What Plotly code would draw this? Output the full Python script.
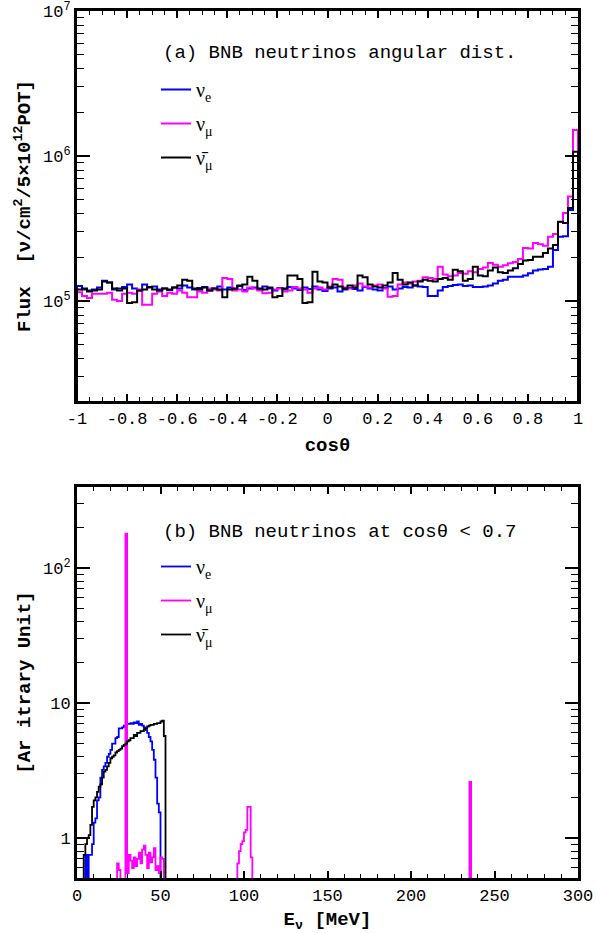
import plotly.graph_objects as go

# ---------------- Panel (a): angular distribution, 100 bins in cos(theta) ----------------
cos_start = -1.0
cos_width = 0.02
flux_unit = 1e5

nue_flux = [1.27, 1.20, 1.18, 1.20, 1.24, 1.38, 1.34, 1.20, 1.22, 1.25,
            1.30, 1.22, 1.18, 1.30, 1.24, 1.26, 1.20, 1.22, 1.19, 1.24,
            1.22, 1.28, 1.24, 1.20, 1.23, 1.25, 1.18, 1.22, 1.26, 1.20,
            1.24, 1.21, 1.27, 1.19, 1.22, 1.24, 1.20, 1.26, 1.22, 1.18,
            1.23, 1.20, 1.25, 1.22, 1.19, 1.24, 1.21, 1.26, 1.20, 1.17,
            1.22, 1.24, 1.16, 1.20, 1.23, 1.21, 1.18, 1.25, 1.22, 1.20,
            1.18, 1.23, 1.26, 1.20, 1.22, 1.25, 1.24, 1.28, 1.26, 1.25,
            1.08, 1.08, 1.18, 1.25, 1.27, 1.29, 1.30, 1.27, 1.28, 1.25,
            1.25, 1.26, 1.28, 1.32, 1.38, 1.40, 1.47, 1.47, 1.47, 1.50,
            1.55, 1.62, 1.65, 1.66, 1.72, 2.25, 2.77, 2.80, 4.24, 10.0]

numu_flux = [1.15, 1.08, 1.05, 1.12, 1.12, 1.12, 1.14, 1.02, 1.00, 1.12,
             1.14, 1.12, 1.20, 0.94, 0.94, 1.12, 1.16, 1.08, 1.14, 1.12,
             1.18, 1.14, 1.06, 1.06, 1.16, 1.14, 1.22, 1.20, 1.18, 1.44,
             1.42, 1.18, 1.20, 1.16, 1.24, 1.22, 1.18, 1.13, 1.14, 1.20,
             1.22, 1.16, 1.18, 1.25, 1.22, 1.20, 1.14, 1.22, 1.24, 1.20,
             1.26, 1.42, 1.40, 1.24, 1.22, 1.28, 1.32, 1.26, 1.24, 1.28,
             1.30, 1.22, 1.07, 1.08, 1.30, 1.34, 1.32, 1.36, 1.38, 1.46,
             1.44, 1.42, 1.72, 1.52, 1.48, 1.50, 1.56, 1.54, 1.60, 1.58,
             1.66, 1.70, 1.83, 1.78, 1.72, 1.76, 1.82, 1.86, 1.95, 2.32,
             2.30, 2.51, 2.46, 2.40, 2.77, 2.90, 3.50, 4.04, 5.25, 15.1]

numubar_flux = [1.20, 1.22, 1.16, 1.18, 1.20, 1.36, 1.34, 1.22, 1.18, 1.22,
                0.97, 0.98, 1.18, 1.20, 1.25, 1.20, 1.18, 1.22, 1.20, 1.24,
                1.28, 1.40, 1.38, 1.22, 1.20, 1.24, 1.18, 1.22, 1.20, 1.06,
                1.20, 1.22, 1.28, 1.30, 1.47, 1.38, 1.22, 1.20, 1.24, 1.06,
                1.08, 1.22, 1.50, 1.50, 1.42, 0.97, 0.98, 1.59, 1.36, 1.34,
                1.24, 1.30, 1.26, 1.22, 1.28, 1.24, 1.50, 1.46, 1.30, 1.26,
                1.24, 1.28, 1.34, 1.56, 1.40, 1.30, 1.34, 1.28, 1.36, 1.40,
                1.38, 1.36, 1.42, 1.44, 1.40, 1.64, 1.60, 1.38, 1.42, 1.72,
                1.50, 1.48, 1.62, 1.70, 1.58, 1.56, 1.62, 1.68, 1.80, 1.90,
                1.92, 2.02, 2.02, 2.14, 2.30, 2.43, 3.52, 3.45, 4.37, 10.7]

# ---------------- Panel (b): energy spectra, 1 MeV bins ----------------
e_width = 1.0

nue_E_start = 5
nue_E = [0.75, 0.30, 0.75, 0.75, 0.90, 1.30, 1.40, 1.90, 2.00, 2.80,
         3.20, 3.40, 3.60, 4.00, 4.20, 4.50, 5.00, 5.00, 5.50, 5.60,
         6.50, 6.50, 6.60, 6.80, 6.80, 7.00, 7.00, 7.10, 7.00, 7.20,
         7.10, 7.30, 6.90, 7.00, 6.80, 6.60, 6.30, 6.00, 5.60, 5.20,
         4.50, 3.80, 2.80, 1.80, 1.55]

numubar_E_start = 4
numubar_E = [0.75, 0.90, 1.00, 1.05, 1.25, 1.70, 1.90, 2.00, 2.20, 2.40,
             2.50, 2.80, 3.10, 3.20, 3.40, 3.60, 3.90, 4.00, 4.10, 4.30,
             4.40, 4.50, 4.60, 4.80, 4.90, 5.00, 5.20, 5.30, 5.50, 5.50,
             5.80, 5.70, 6.00, 6.00, 6.20, 6.20, 6.40, 6.50, 6.70, 6.80,
             6.90, 6.90, 7.00, 7.00, 7.10, 7.10, 7.30, 7.40, 5.70]

numu_E1_start = 24
numu_E1 = [0.65, 0.58, 0.30, 0.30, 0.30, 180.0, 0.55, 0.75, 0.68, 0.60,
           0.72, 0.62, 0.70, 0.78, 0.65, 0.82, 0.88, 0.75, 0.60, 0.78,
           0.66, 0.72, 0.84, 0.58, 0.62, 0.55, 0.72, 0.70, 0.30]

numu_E2_start = 96
numu_E2 = [0.65, 0.80, 0.90, 0.95, 1.10, 1.15, 1.70, 1.70, 0.72]

numu_E3_start = 235
numu_E3 = [2.6]

legend_a_title = "(a) BNB neutrinos angular dist."
legend_b_title = "(b) BNB neutrinos at cosθ < 0.7"

BLUE = "#0000ff"
MAGENTA = "#ff00ff"
BLACK = "#000000"
MONO = "Liberation Mono"
SERIF = "Liberation Serif"
W, H = 596, 933


def step_xy(start, width, vals, floor, scale=1.0):
    xs = [start]
    ys = [floor]
    for i, v in enumerate(vals):
        xs.append(start + i * width)
        ys.append(v * scale)
    xs.append(start + len(vals) * width)
    ys.append(floor)
    return xs, ys


fig = go.Figure()

# panel (a)
for name, vals, col, grp in [("ν<sub>e</sub>", nue_flux, BLUE, "a1"),
                             ("ν<sub>μ</sub>", numu_flux, MAGENTA, "a2"),
                             ("ν̄<sub>μ</sub>", numubar_flux, BLACK, "a3")]:
    xs, ys = step_xy(cos_start, cos_width, vals, 1e3, flux_unit)
    fig.add_trace(go.Scatter(x=xs, y=ys, mode="lines", line=dict(color=col, width=2, shape="hv"),
                             name=name, legend="legend", legendgroup=grp,
                             xaxis="x", yaxis="y"))

# panel (b)
xb, yb = step_xy(nue_E_start, e_width, nue_E, 0.01)
fig.add_trace(go.Scatter(x=xb, y=yb, mode="lines", line=dict(color=BLUE, width=1.8, shape="hv"),
                         name="ν<sub>e</sub>", legend="legend2", legendgroup="b1",
                         xaxis="x2", yaxis="y2"))
xm, ym = [], []
for s, v in [(numu_E1_start, numu_E1), (numu_E2_start, numu_E2), (numu_E3_start, numu_E3)]:
    a, b = step_xy(s, e_width, v, 0.01)
    xm += a
    ym += b
fig.add_trace(go.Scatter(x=xm, y=ym, mode="lines", line=dict(color=MAGENTA, width=1.8, shape="hv"),
                         name="ν<sub>μ</sub>", legend="legend2", legendgroup="b2",
                         xaxis="x2", yaxis="y2"))
xk, yk = step_xy(numubar_E_start, e_width, numubar_E, 0.01)
fig.add_trace(go.Scatter(x=xk, y=yk, mode="lines", line=dict(color=BLACK, width=1.8, shape="hv"),
                         name="ν̄<sub>μ</sub>", legend="legend2", legendgroup="b3",
                         xaxis="x2", yaxis="y2"))

XDOM = [77 / W, 578 / W]
tick_font = dict(family=MONO, size=17, color="black")
title_font = dict(family=MONO, size=19, color="black")

common = dict(showline=True, linecolor="black", linewidth=3, mirror="ticks", ticks="inside",
              tickcolor="black", tickwidth=1.5, showgrid=False, zeroline=False, tickfont=tick_font,
              automargin=False, ticklabeloverflow="allow")

cos_major = [-1 + 0.2 * i for i in range(11)]
cos_minor = [-1 + 0.05 * i for i in range(41)]
e_major = [50 * i for i in range(7)]
e_minor = [10 * i for i in range(31)]

legend_common = dict(xanchor="left", yanchor="top", bgcolor="rgba(0,0,0,0)",
                     font=dict(family=SERIF, size=20, color="black"), tracegroupgap=5, itemwidth=30)

fig.update_layout(
    width=W, height=H,
    margin=dict(l=0, r=0, t=0, b=0, autoexpand=False),
    paper_bgcolor="white", plot_bgcolor="white",
    xaxis=dict(domain=XDOM, anchor="y", range=[-1, 1], tickmode="array",
               tickvals=cos_major, ticktext=["-1", "-0.8", "-0.6", "-0.4", "-0.2", "0", "0.2", "0.4", "0.6", "0.8", "1"],
               ticklen=7, minor=dict(tickmode="array", tickvals=cos_minor, ticklen=4, ticks="inside",
                                     tickcolor="black", tickwidth=1.2),
               title=dict(text="<b>cosθ</b>", font=title_font, standoff=10), **common),
    yaxis=dict(domain=[1 - 401 / H, 1 - 11 / H], anchor="x", type="log", range=[4.31, 7.0],
               tickmode="array", tickvals=[1e5, 1e6, 1e7],
               ticktext=["10<sup>5</sup>", "10<sup>6</sup>", "10<sup>7</sup>"], ticklen=13,
               minor=dict(tickmode="array", tickvals=[k * 10 ** p for p in (4, 5, 6) for k in range(2, 10)],
                          ticklen=7, ticks="inside", tickcolor="black", tickwidth=1.2),
               title=dict(text="<b>Flux  [ν/cm<sup>2</sup>/5×10<sup>12</sup>POT]</b>", font=title_font, standoff=8),
               **common),
    xaxis2=dict(domain=XDOM, anchor="y2", range=[0, 300], tickmode="array",
                tickvals=e_major, ticktext=[str(v) for v in e_major], ticklen=7,
                minor=dict(tickmode="array", tickvals=e_minor, ticklen=4, ticks="inside",
                           tickcolor="black", tickwidth=1.2),
                title=dict(text="<b>E<sub>ν</sub> [MeV]</b>", font=title_font, standoff=8), **common),
    yaxis2=dict(domain=[1 - 878 / H, 1 - 487 / H], anchor="x2", type="log", range=[-0.296, 2.6],
                tickmode="array", tickvals=[1, 10, 100], ticktext=["1", "10", "10<sup>2</sup>"], ticklen=13,
                minor=dict(tickmode="array",
                           tickvals=[k * 10 ** p for p in (-1, 0, 1, 2) for k in range(2, 10)],
                           ticklen=7, ticks="inside", tickcolor="black", tickwidth=1.2),
                title=dict(text="<b>[Ar itrary Unit]</b>", font=title_font, standoff=8), **common),
    legend=dict(x=156 / W, y=1 - 70 / H, **legend_common),
    legend2=dict(x=156 / W, y=1 - 547 / H, **legend_common),
    showlegend=True,
    annotations=[
        dict(text=legend_a_title, x=161 / W, y=1 - 53 / H, xref="paper", yref="paper",
             xanchor="left", yanchor="middle", showarrow=False, font=dict(family=MONO, size=19, color="black")),
        dict(text=legend_b_title, x=161 / W, y=1 - 532 / H, xref="paper", yref="paper",
             xanchor="left", yanchor="middle", showarrow=False, font=dict(family=MONO, size=19, color="black")),
    ],
)

fig.write_html("out.html")
